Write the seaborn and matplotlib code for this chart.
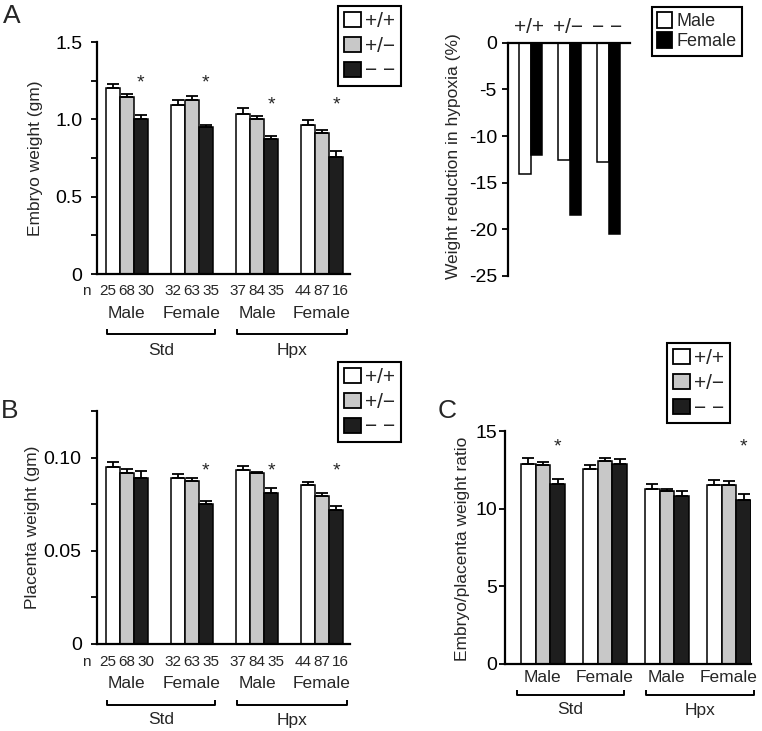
import numpy as np
import pandas as pd
import matplotlib
matplotlib.use("Agg")
import matplotlib.pyplot as plt
import seaborn as sns
from matplotlib.patches import Patch

sns.set_style("ticks")
plt.rcParams["font.family"] = ["Liberation Sans", "DejaVu Sans"]
plt.rcParams["axes.unicode_minus"] = False

# ---------------- data ----------------
sexes = ["Male", "Female", "Male", "Female"]
conditions = ["Std", "Std", "Hpx", "Hpx"]
genotypes = ["+/+", "+/\u2212", "\u2212 \u2212"]

n_wt = [25, 32, 37, 44]
n_het = [68, 63, 84, 87]
n_ko = [30, 35, 35, 16]

embryo_wt = [1.200, 1.095, 1.037, 0.966]
embryo_het = [1.142, 1.125, 1.002, 0.914]
embryo_ko = [1.004, 0.953, 0.873, 0.759]
embryo_wt_sem = [0.030, 0.032, 0.036, 0.028]
embryo_het_sem = [0.024, 0.026, 0.017, 0.019]
embryo_ko_sem = [0.024, 0.013, 0.017, 0.034]
embryo_star = [True, True, True, True]

placenta_wt = [0.0951, 0.0888, 0.0933, 0.0854]
placenta_het = [0.0915, 0.0872, 0.0917, 0.0795]
placenta_ko = [0.0890, 0.0752, 0.0811, 0.0718]
placenta_wt_sem = [0.0024, 0.0026, 0.0024, 0.0016]
placenta_het_sem = [0.0025, 0.0016, 0.0006, 0.0015]
placenta_ko_sem = [0.0040, 0.0014, 0.0025, 0.0023]
placenta_star = [False, True, True, True]

ratio_wt = [12.90, 12.56, 11.27, 11.55]
ratio_het = [12.79, 13.07, 11.12, 11.55]
ratio_ko = [11.59, 12.86, 10.84, 10.59]
ratio_wt_sem = [0.36, 0.28, 0.30, 0.28]
ratio_het_sem = [0.21, 0.21, 0.15, 0.21]
ratio_ko_sem = [0.32, 0.34, 0.28, 0.34]
ratio_star = [True, False, False, True]

reduction_sexes = ["Male", "Female"]
reduction_male = [-14.1, -12.6, -12.8]
reduction_female = [-12.0, -18.5, -20.5]

geno_colors = ["#ffffff", "#c8c8c8", "#1e1e1e"]
sex_colors = ["#ffffff", "#000000"]

# ---------------- layout helpers ----------------
W, H = 762, 731
fig = plt.figure(figsize=(W / 100, H / 100), dpi=100)


def rect(x0, y0, x1, y1):
    return [x0 / W, 1 - y1 / H, (x1 - x0) / W, (y1 - y0) / H]


def yoff(ax, dy_px):
    return -dy_px / (ax.get_position().height * H)


groups = [f"{c} {s}" for c, s in zip(conditions, sexes)]


def long_df(wt, het, ko):
    rows = []
    for g, vals in zip(genotypes, [wt, het, ko]):
        for grp, v in zip(groups, vals):
            rows.append({"group": grp, "genotype": g, "value": v})
    return pd.DataFrame(rows)


def style_axis(ax, pad):
    for s in ["top", "right"]:
        ax.spines[s].set_visible(False)
    for s in ["left", "bottom"]:
        ax.spines[s].set_linewidth(1.6)
        ax.spines[s].set_color("black")
    ax.tick_params(axis="y", direction="out", length=4, width=1.3,
                   labelsize=14, pad=pad, colors="black")
    ax.tick_params(axis="x", length=0, labelbottom=False)
    ax.set_xlabel("")
    ax.set_ylabel("")


def genotype_panel(ax, wt, het, ko, sems, width, xlim, ylim, yticks, ylabels,
                   pad, stars, star_y):
    df = long_df(wt, het, ko)
    sns.barplot(data=df, x="group", y="value", hue="genotype",
                order=groups, hue_order=genotypes,
                palette=dict(zip(genotypes, geno_colors)),
                width=width, errorbar=None, edgecolor="black",
                linewidth=1.1, legend=False, ax=ax)
    for cont, sem in zip(ax.containers, sems):
        xs = [p.get_x() + p.get_width() / 2 for p in cont]
        hs = [p.get_height() for p in cont]
        ax.errorbar(xs, hs, yerr=[np.zeros(len(sem)), sem], fmt="none",
                    ecolor="black", elinewidth=1.3, capsize=4.2,
                    capthick=1.3, zorder=3)
    for p, st, sy in zip(ax.containers[2], stars, star_y):
        if st:
            ax.text(p.get_x() + p.get_width() / 2, sy, "*", ha="center",
                    va="baseline", fontsize=14)
    ax.set_xlim(*xlim)
    ax.set_ylim(*ylim)
    ax.set_yticks(yticks)
    ax.set_yticklabels(ylabels)
    style_axis(ax, pad)


def group_labels(ax, sex_dy, brk_dy, cond_dy, std_rng, hpx_rng, n_dy=None):
    tr = ax.get_xaxis_transform()
    for i, s in enumerate(sexes):
        ax.text(i, yoff(ax, sex_dy), s, transform=tr, ha="center",
                va="center", fontsize=12.5, clip_on=False)
    if n_dy is not None:
        for i, ns in enumerate(zip(n_wt, n_het, n_ko)):
            for k, n in enumerate(ns):
                ax.text(i + (k - 1) * 0.288, yoff(ax, n_dy), str(n),
                        transform=tr, ha="center", va="center",
                        fontsize=11, clip_on=False)
        ax.text(-0.041, yoff(ax, n_dy), "n", transform=ax.transAxes,
                ha="center", va="center", fontsize=11, clip_on=False)
    for (x0, x1), lab in zip([std_rng, hpx_rng], ["Std", "Hpx"]):
        yb = yoff(ax, brk_dy)
        yt = yoff(ax, brk_dy - 5)
        ax.plot([x0, x0, x1, x1], [yt, yb, yb, yt], transform=tr,
                color="black", lw=1.4, clip_on=False, solid_capstyle="butt")
        ax.text((x0 + x1) / 2, yoff(ax, cond_dy), lab, transform=tr,
                ha="center", va="center", fontsize=12.5, clip_on=False)


def geno_legend(x0, y0):
    handles = [Patch(facecolor=c, edgecolor="black", linewidth=1.3)
               for c in geno_colors]
    leg = fig.legend(handles, genotypes, loc="upper left",
                     bbox_to_anchor=(x0 / W, 1 - y0 / H), borderaxespad=0,
                     fontsize=15, handlelength=0.8, handleheight=0.75,
                     handletextpad=0.22, borderpad=0.28, labelspacing=0.28,
                     fancybox=False, framealpha=1, edgecolor="black")
    leg.get_frame().set_linewidth(1.5)
    return leg


# ---------------- Panel A (left) ----------------
axA = fig.add_axes(rect(97, 42, 350, 274))
genotype_panel(axA, embryo_wt, embryo_het, embryo_ko,
               [embryo_wt_sem, embryo_het_sem, embryo_ko_sem],
               0.646, (-0.46, 3.43), (0, 1.5),
               np.arange(0, 1.51, 0.25), ["0", "", "0.5", "", "1.0", "", "1.5"],
               6.5, embryo_star, [1.206, 1.206, 1.063, 1.063])
group_labels(axA, 39, 60, 76, (-0.3, 1.36), (1.69, 3.38), n_dy=16.5)
axA.text(-0.245, 0.5, "Embryo weight (gm)", transform=axA.transAxes,
         rotation=90, ha="center", va="center", fontsize=12.5)
geno_legend(338, 6)

# ---------------- Panel A (right) ----------------
axR = fig.add_axes(rect(508, 42.7, 630, 276))
red_rows = []
for sx, vals in zip(reduction_sexes, [reduction_male, reduction_female]):
    for g, v in zip(genotypes, vals):
        red_rows.append({"genotype": g, "sex": sx, "value": v})
red_df = pd.DataFrame(red_rows)
sns.barplot(data=red_df, x="genotype", y="value", hue="sex",
            order=genotypes, hue_order=reduction_sexes,
            palette=dict(zip(reduction_sexes, sex_colors)), width=0.59,
            errorbar=None, edgecolor="black", linewidth=1.1, legend=False,
            ax=axR)
axR.set_xlim(-0.59, 2.54)
axR.set_ylim(-25, 0)
axR.set_yticks([0, -5, -10, -15, -20, -25])
axR.set_yticklabels(["0", "-5", "-10", "-15", "-20", "-25"])
for s in ["bottom", "right"]:
    axR.spines[s].set_visible(False)
for s in ["left", "top"]:
    axR.spines[s].set_linewidth(1.6)
    axR.spines[s].set_color("black")
axR.tick_params(axis="y", direction="out", length=4, width=1.3,
                labelsize=14, pad=4, colors="black")
axR.tick_params(axis="x", length=0, labelbottom=False, labeltop=False)
axR.set_xlabel("")
axR.set_ylabel("")
trR = axR.get_xaxis_transform()
for i, g in enumerate(genotypes):
    axR.text(i - 0.05, 1 + 9.7 / 233.3, g, transform=trR, ha="center",
             va="baseline", fontsize=15, clip_on=False)
axR.text(-0.45, 0.514, "Weight reduction in hypoxia (%)",
         transform=axR.transAxes, rotation=90, ha="center", va="center",
         fontsize=12.5)
legR = fig.legend([Patch(facecolor=c, edgecolor="black", linewidth=1.3)
                   for c in sex_colors], reduction_sexes, loc="upper left",
                  bbox_to_anchor=(652 / W, 1 - 7 / H), borderaxespad=0,
                  fontsize=13, handlelength=0.8, handleheight=0.95,
                  handletextpad=0.25, borderpad=0.3, labelspacing=0.1,
                  fancybox=False, framealpha=1, edgecolor="black")
legR.get_frame().set_linewidth(1.5)

# ---------------- Panel B ----------------
axB = fig.add_axes(rect(97, 411, 350, 644))
genotype_panel(axB, placenta_wt, placenta_het, placenta_ko,
               [placenta_wt_sem, placenta_het_sem, placenta_ko_sem],
               0.646, (-0.46, 3.43), (0, 0.125),
               np.arange(0, 0.1251, 0.025),
               ["0", "", "0.05", "", "0.10", ""],
               7, placenta_star, [0.0903] * 4)
group_labels(axB, 39, 61, 76, (-0.3, 1.36), (1.69, 3.38), n_dy=17.5)
axB.text(-0.253, 0.5, "Placenta weight (gm)", transform=axB.transAxes,
         rotation=90, ha="center", va="center", fontsize=12.5)
geno_legend(338, 362)

# ---------------- Panel C ----------------
axC = fig.add_axes(rect(505, 431, 751, 664))
genotype_panel(axC, ratio_wt, ratio_het, ratio_ko,
               [ratio_wt_sem, ratio_het_sem, ratio_ko_sem],
               0.71, (-0.61, 3.355), (0, 15),
               [0, 5, 10, 15], ["0", "5", "10", "15"],
               1.5, ratio_star, [13.68] * 4)
group_labels(axC, 14, 31, 46, (-0.42, 1.31), (1.66, 3.40))
axC.text(-0.171, 0.494, "Embryo/placenta weight ratio",
         transform=axC.transAxes, rotation=90, ha="center", va="center",
         fontsize=12.5)
geno_legend(667, 343)

# ---------------- panel letters ----------------
fig.text(12 / W, 1 - 23.3 / H, "A", ha="center", va="baseline", fontsize=19)
fig.text(10 / W, 1 - 418.3 / H, "B", ha="center", va="baseline", fontsize=19)
fig.text(447 / W, 1 - 418 / H, "C", ha="center", va="baseline", fontsize=19)

fig.savefig("out.png", dpi=100)
